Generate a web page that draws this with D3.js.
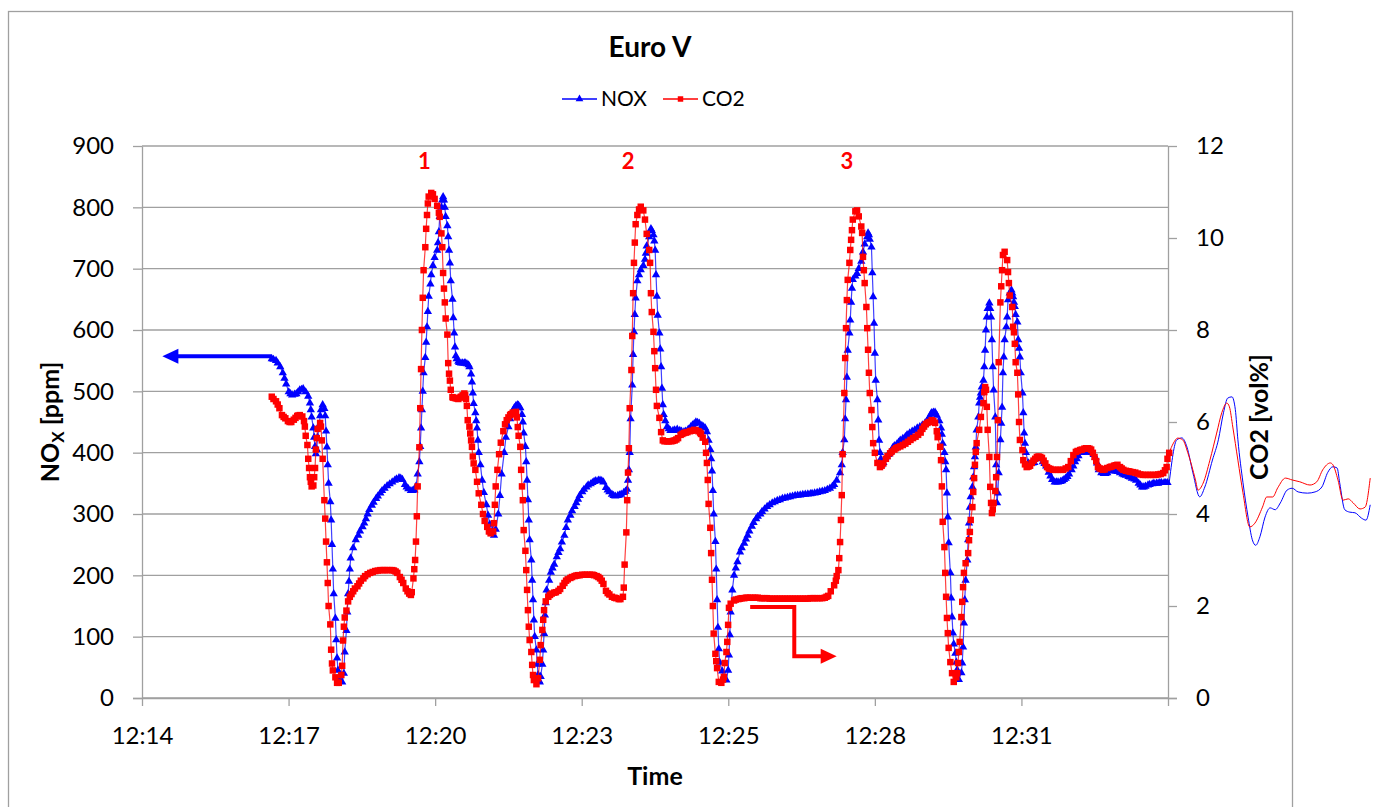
<!DOCTYPE html>
<html><head><meta charset="utf-8">
<script src="https://cdn.jsdelivr.net/npm/d3@7"></script>
<style>body{margin:0;background:#fff;} svg{display:block;font-family:Lato,"Open Sans",sans-serif;}</style>
</head><body><svg id="c" width="1379" height="807"></svg>
<script>
// ---------------- data ----------------
const chartTitle = "Euro V";
const xTitle = "Time";
const xTickLabels = ["12:14","12:17","12:20","12:23","12:25","12:28","12:31"];
const xTickStepSeconds = 172.8;          // seconds between axis labels (from 12:14:24)
const leftTicks = [0,100,200,300,400,500,600,700,800,900];
const rightTicks = [0,2,4,6,8,10,12];
const seriesNames = ["NOX","CO2"];
const peakLabels = [["1",333],["2",573],["3",831]];   // [label, seconds]
// NOX [ppm] : [seconds since axis start, value]
const noxData = [[153,553],[158,550],[163,540],[166,530],[170,512],[173,499],[177,494],[182,496],[186,502],[190,504],[193,499],[196,492],[198,481],[199,470],[200,458],[202,440],[203,425],[204,410],[205,398],[206,405],[207,425],[209,445],[210,460],[211,470],[213,478],[215,472],[216,460],[217,435],[218,409],[219,380],[220,350],[222,320],[223,290],[224,250],[225,210],[226,170],[228,130],[229,95],[230,65],[231,45],[233,30],[236,26],[238,40],[239,75],[241,110],[242,140],[243,170],[244,190],[245,210],[246,228],[249,245],[252,258],[257,272],[262,285],[266,300],[271,314],[276,325],[281,334],[286,342],[292,349],[298,355],[303,359],[307,356],[310,348],[314,341],[317,338],[321,339],[323,345],[325,365],[327,385],[328,410],[329,440],[330,470],[331,500],[332,530],[334,555],[335,580],[336,605],[337,630],[338,655],[340,675],[341,690],[343,705],[345,718],[348,730],[349,742],[350,760],[351,785],[353,800],[354,812],[355,817],[356,812],[357,800],[358,785],[360,770],[361,752],[362,730],[363,709],[364,680],[366,650],[367,620],[368,595],[369,572],[370,558],[373,549],[376,546],[380,546],[383,545],[386,540],[388,528],[389,515],[390,497],[391,480],[393,465],[394,452],[395,440],[396,420],[397,400],[399,380],[401,355],[403,335],[406,315],[408,298],[410,283],[413,272],[415,265],[417,275],[420,300],[422,330],[424,365],[427,400],[429,425],[432,442],[434,455],[437,468],[441,477],[443,478],[446,473],[448,462],[449,450],[450,432],[452,410],[453,385],[454,355],[455,323],[456,290],[457,258],[459,225],[460,192],[461,160],[462,127],[463,100],[465,78],[466,55],[467,38],[468,28],[469,26],[470,35],[472,55],[473,78],[474,105],[475,135],[476,155],[477,176],[480,192],[482,205],[486,218],[489,230],[493,243],[498,265],[502,290],[507,305],[512,318],[516,330],[521,340],[526,347],[531,351],[535,354],[540,355],[544,352],[547,343],[551,336],[554,332],[558,329],[561,330],[565,332],[568,335],[572,340],[573,355],[574,372],[575,400],[576,455],[578,510],[579,560],[580,597],[581,625],[582,652],[584,680],[586,690],[588,698],[591,705],[593,715],[594,725],[595,737],[598,752],[600,765],[601,762],[603,755],[604,745],[605,730],[606,690],[607,655],[608,624],[610,595],[611,569],[612,540],[613,505],[614,478],[615,462],[617,452],[619,442],[623,436],[626,436],[631,438],[634,436],[639,434],[644,438],[647,442],[651,447],[653,450],[657,448],[660,444],[664,440],[666,434],[668,420],[670,405],[671,390],[672,370],[673,338],[674,300],[676,255],[677,210],[678,160],[679,115],[680,80],[681,58],[684,44],[686,32],[689,29],[691,45],[692,70],[693,103],[694,140],[696,176],[698,200],[702,222],[705,238],[710,252],[714,265],[719,280],[724,292],[729,300],[734,308],[740,315],[746,320],[752,323],[758,326],[764,328],[770,330],[776,331],[782,332],[788,333],[793,334],[799,336],[805,338],[811,342],[816,348],[819,355],[823,367],[825,380],[826,400],[828,421],[829,455],[830,486],[831,523],[832,567],[834,595],[835,616],[836,645],[837,668],[838,682],[841,688],[843,692],[845,700],[848,712],[850,727],[852,740],[855,752],[856,758],[857,755],[858,748],[860,735],[861,693],[862,654],[863,611],[864,562],[865,518],[867,486],[868,453],[869,420],[870,400],[871,390],[872,380],[874,384],[876,389],[878,393],[882,400],[885,408],[890,414],[894,420],[900,426],[905,432],[911,437],[917,442],[923,448],[927,455],[930,463],[933,466],[935,466],[937,461],[940,452],[942,440],[943,430],[944,415],[946,400],[947,385],[948,372],[949,334],[950,295],[951,253],[953,204],[954,163],[955,132],[956,106],[957,88],[959,73],[960,58],[961,46],[962,30],[963,30],[966,41],[967,57],[968,83],[969,122],[970,160],[971,192],[973,225],[974,258],[975,285],[976,311],[977,328],[979,344],[980,360],[981,377],[982,393],[983,409],[984,437],[986,458],[987,481],[988,490],[989,497],[990,507],[992,518],[993,540],[994,567],[995,600],[996,621],[997,635],[999,644],[1000,635],[1001,621],[1002,584],[1003,540],[1004,502],[1006,458],[1007,380],[1008,318],[1009,334],[1010,367],[1012,421],[1013,448],[1014,474],[1015,530],[1016,556],[1017,584],[1019,605],[1020,621],[1021,649],[1023,660],[1025,665],[1026,660],[1027,654],[1028,645],[1029,638],[1030,625],[1032,613],[1033,584],[1034,570],[1035,556],[1036,530],[1038,497],[1039,465],[1040,432],[1041,415],[1042,400],[1045,383],[1048,382],[1052,384],[1055,391],[1059,390],[1062,385],[1066,378],[1069,368],[1073,356],[1076,352],[1080,352],[1085,354],[1089,358],[1093,365],[1096,372],[1100,385],[1104,395],[1107,400],[1111,401],[1115,401],[1120,400],[1124,392],[1126,383],[1128,372],[1131,367],[1134,366],[1138,367],[1141,370],[1145,372],[1148,370],[1153,367],[1158,364],[1163,361],[1167,358],[1172,355],[1175,350],[1179,344],[1183,345],[1186,347],[1191,349],[1196,350],[1200,351],[1205,351],[1209,351],
  // finer readings on the slow stretches
  [155,552],[160,546],[168,521],[175,496],[180,495],[184,499],[188,503],
  [255,265],[260,279],[264,292],[268,307],[273,319],[278,329],[283,338],[289,346],[295,352],[300,357],[305,358],[312,344],[319,338],
  [371,553],[374,547],[378,546],[381,546],[385,543],[436,463],[439,473],[444,477],
  [484,212],[491,237],[495,254],[500,278],[505,298],[510,312],[514,324],[519,336],[524,344],[529,349],[533,353],[538,355],[542,354],[549,339],[556,330],[563,331],[570,337],
  [621,439],[628,437],[636,435],[641,435],[649,445],[655,449],[662,442],
  [700,212],[707,245],[712,259],[716,272],[721,286],[726,296],[731,304],[737,312],[743,318],[749,322],[755,325],[761,327],[767,329],[773,330.5],[779,331.5],[785,332.5],[790,333.5],[796,335],[802,337],[808,340],[814,345],
  [880,397],[887,411],[892,417],[897,423],[902,429],[908,435],[914,440],[920,445],[925,451],[929,459],[931,465],
  [1050,383],[1057,391],[1064,382],[1071,362],[1078,352],[1083,353],[1087,356],[1091,361],[1098,378],[1102,390],[1109,401],[1113,401],[1117,401],[1122,397],[1136,366],[1143,371],[1150,369],[1156,365],[1160,363],[1165,360],[1170,357],[1177,347],[1181,344],[1188,348],[1193,350],[1198,350],[1202,351],[1207,351]];
// CO2 [vol%] : [seconds since axis start, value]
const co2Data = [[153,6.55],[158,6.45],[162,6.3],[165,6.15],[169,6.08],[172,6.02],[176,6.0],[179,6.05],[183,6.13],[186,6.15],[189,6.12],[191,6.02],[192,5.9],[193,5.7],[195,5.5],[196,5.2],[197,5.0],[198,4.8],[199,4.7],[200,4.6],[202,4.62],[203,4.8],[204,5.0],[205,5.4],[206,5.65],[207,5.85],[210,5.98],[211,5.9],[212,5.6],[213,5.2],[215,4.3],[216,3.9],[217,3.4],[218,2.95],[219,2.5],[220,2.0],[222,1.6],[223,1.05],[224,0.75],[225,0.6],[228,0.45],[230,0.33],[232,0.33],[235,0.5],[236,0.7],[237,1.25],[238,1.55],[239,1.75],[241,1.9],[243,2.1],[245,2.2],[249,2.32],[254,2.43],[258,2.55],[263,2.65],[269,2.72],[275,2.76],[281,2.78],[286,2.78],[292,2.78],[297,2.77],[301,2.72],[304,2.63],[308,2.5],[311,2.38],[315,2.27],[317,2.24],[318,2.3],[320,2.6],[321,2.8],[322,3.0],[323,3.4],[324,3.95],[325,4.6],[327,5.45],[328,6.3],[329,7.15],[330,8.0],[331,8.7],[332,9.3],[334,9.8],[335,10.2],[336,10.5],[337,10.75],[338,10.9],[341,10.98],[343,10.95],[345,10.85],[348,10.7],[350,10.55],[351,10.46],[353,10.1],[354,9.8],[355,9.24],[356,8.9],[357,8.6],[358,8.25],[360,7.9],[361,7.28],[362,7.05],[363,6.9],[364,6.7],[366,6.54],[369,6.52],[373,6.5],[376,6.55],[380,6.62],[382,6.5],[383,6.35],[384,6.04],[386,5.9],[387,5.75],[388,5.6],[389,5.46],[390,5.25],[391,5.1],[393,4.96],[395,4.7],[397,4.45],[400,4.2],[402,4.0],[404,3.85],[407,3.72],[409,3.62],[411,3.58],[414,3.62],[415,3.8],[416,4.2],[417,4.6],[419,4.96],[421,5.3],[423,5.55],[426,5.8],[428,5.95],[430,6.04],[434,6.15],[437,6.2],[441,6.22],[442,6.1],[443,5.89],[444,5.7],[446,5.46],[447,4.96],[448,4.6],[449,4.3],[450,3.65],[452,3.2],[453,2.78],[454,2.35],[455,1.91],[456,1.55],[457,1.26],[459,1.0],[460,0.72],[461,0.5],[462,0.39],[465,0.3],[467,0.43],[469,0.83],[470,1.15],[472,1.48],[473,1.7],[474,1.91],[476,2.1],[479,2.2],[483,2.27],[488,2.3],[493,2.37],[498,2.5],[502,2.58],[507,2.63],[512,2.66],[516,2.67],[522,2.68],[528,2.68],[533,2.67],[536,2.65],[540,2.6],[544,2.48],[547,2.33],[551,2.25],[554,2.2],[559,2.17],[564,2.15],[567,2.2],[568,2.4],[569,2.9],[571,3.6],[572,4.3],[573,4.9],[574,5.43],[575,6.3],[577,7.13],[578,7.87],[579,8.8],[580,9.46],[581,9.9],[582,10.3],[584,10.5],[586,10.62],[588,10.68],[591,10.6],[593,10.4],[595,10.09],[598,9.74],[599,9.46],[600,8.8],[601,8.39],[603,7.96],[604,7.54],[605,7.17],[606,6.7],[607,6.35],[610,6.09],[612,5.78],[614,5.6],[619,5.58],[624,5.58],[628,5.6],[632,5.65],[635,5.72],[639,5.76],[643,5.78],[646,5.8],[651,5.83],[656,5.8],[659,5.74],[661,5.66],[664,5.57],[665,5.33],[666,5.11],[667,4.74],[668,4.22],[670,3.7],[671,3.15],[672,2.57],[673,2.0],[674,1.4],[676,0.96],[677,0.8],[678,0.65],[680,0.35],[683,0.33],[685,0.4],[686,0.46],[687,0.76],[689,1.0],[690,1.22],[691,1.59],[692,1.96],[694,2.05],[698,2.12],[703,2.15],[707,2.17],[712,2.18],[717,2.18],[723,2.18],[729,2.17],[734,2.17],[740,2.16],[746,2.16],[752,2.16],[758,2.16],[764,2.16],[770,2.16],[776,2.16],[782,2.16],[788,2.17],[793,2.17],[799,2.17],[805,2.18],[809,2.22],[812,2.32],[816,2.45],[818,2.55],[819,2.65],[821,2.78],[822,3.04],[823,3.39],[824,3.87],[825,4.41],[826,5.3],[828,6.63],[829,7.39],[830,8.04],[831,8.65],[832,9.09],[834,9.46],[835,9.74],[836,9.96],[837,10.17],[838,10.4],[841,10.58],[843,10.6],[845,10.47],[848,10.25],[849,10.11],[850,9.59],[851,9.3],[852,9.02],[854,8.5],[855,8.04],[856,7.57],[857,7.07],[858,6.63],[860,6.26],[861,5.89],[862,5.54],[864,5.33],[867,5.11],[870,5.02],[874,5.1],[877,5.2],[882,5.32],[887,5.4],[891,5.45],[897,5.5],[903,5.57],[909,5.65],[915,5.72],[920,5.85],[924,5.95],[928,6.0],[931,6.04],[935,5.98],[937,5.8],[938,5.67],[941,5.46],[942,5.17],[943,4.6],[944,3.83],[946,3.28],[947,2.72],[948,2.2],[949,1.74],[950,1.41],[951,1.09],[953,0.78],[955,0.54],[957,0.35],[960,0.45],[961,0.54],[962,0.76],[963,1.0],[964,1.22],[966,1.76],[967,2.09],[968,2.41],[969,2.72],[971,2.93],[974,3.15],[975,3.43],[976,3.61],[977,3.87],[979,4.15],[980,4.48],[981,4.78],[982,5.07],[983,5.35],[984,5.54],[987,5.83],[989,6.11],[992,6.41],[993,6.65],[994,6.76],[995,6.7],[996,6.33],[997,5.83],[999,5.24],[1000,4.59],[1001,4.24],[1002,4.02],[1003,4.1],[1004,4.24],[1006,4.5],[1007,4.8],[1008,5.24],[1009,6.04],[1010,7.3],[1012,8.6],[1013,8.95],[1014,9.3],[1015,9.63],[1017,9.7],[1020,9.52],[1021,9.26],[1022,9.02],[1023,8.75],[1026,8.5],[1027,8.07],[1028,7.95],[1029,7.7],[1030,7.3],[1032,7.07],[1033,6.6],[1034,6.0],[1035,5.61],[1038,5.39],[1039,5.17],[1041,5.08],[1043,5.02],[1047,5.05],[1049,5.11],[1053,5.2],[1055,5.24],[1059,5.24],[1061,5.22],[1065,5.1],[1067,5.02],[1071,4.98],[1074,4.96],[1080,4.96],[1086,4.96],[1089,4.99],[1092,5.02],[1095,5.15],[1098,5.28],[1101,5.35],[1106,5.39],[1111,5.42],[1115,5.43],[1119,5.4],[1121,5.33],[1125,5.15],[1127,5.02],[1131,4.98],[1133,4.96],[1138,5.0],[1141,5.02],[1146,5.05],[1150,5.07],[1153,5.02],[1157,4.96],[1163,4.93],[1168,4.91],[1174,4.88],[1180,4.85],[1186,4.85],[1192,4.85],[1198,4.86],[1204,4.89],[1206,4.95],[1208,5.02],[1209,5.2],[1211,5.33],
  // finer readings on the slow stretches
  [155,6.5],[160,6.38],[167,6.11],[174,6.0],[181,6.09],[184,6.14],
  [247,2.26],[251,2.38],[256,2.49],[261,2.6],[266,2.69],[272,2.74],[278,2.77],[284,2.78],[289,2.78],[295,2.78],[299,2.75],[306,2.57],[313,2.32],
  [367,6.53],[371,6.51],[375,6.53],[378,6.58],[381,6.58],[432,6.1],[435,6.17],[439,6.21],
  [481,2.24],[486,2.29],[491,2.33],[496,2.44],[500,2.55],[505,2.61],[510,2.65],[514,2.67],[519,2.68],[525,2.68],[531,2.68],[538,2.63],[542,2.55],[549,2.28],[557,2.18],[562,2.15],
  [616,5.58],[621,5.58],[626,5.59],[630,5.62],[637,5.74],[641,5.77],[648,5.81],[653,5.82],[658,5.77],
  [700,2.14],[705,2.16],[710,2.17],[714,2.18],[720,2.18],[726,2.18],[731,2.17],[737,2.17],[743,2.16],[749,2.16],[755,2.16],[761,2.16],[767,2.16],[773,2.16],[779,2.16],[785,2.16],[791,2.17],[796,2.17],[802,2.17],[807,2.2],
  [872,5.05],[879,5.26],[884,5.36],[889,5.43],[894,5.47],[900,5.53],[906,5.61],[912,5.68],[918,5.77],[922,5.9],[926,5.98],[933,6.02],
  [1045,5.03],[1051,5.16],[1057,5.25],[1063,5.16],[1069,4.99],[1077,4.96],[1083,4.96],[1103,5.37],[1108,5.4],[1113,5.43],[1117,5.42],[1123,5.24],[1129,4.99],[1135,4.97],[1143,5.03],[1148,5.06],[1155,4.99],[1160,4.94],[1165,4.92],[1171,4.9],[1177,4.86],[1183,4.85],[1189,4.85],[1195,4.85],[1201,4.87]];
// thin continuation of both traces past the right edge of the plot
const noxTail = [[1211,351],[1220,421],[1226,424],[1232,409],[1239,367],[1247,328],[1253,344],[1262,388],[1269,421],[1275,465],[1280,489],[1285,491],[1289,470],[1292,421],[1298,351],[1304,295],[1309,258],[1313,249],[1318,263],[1324,295],[1330,310],[1336,307],[1342,318],[1350,339],[1356,342],[1363,336],[1374,334],[1383,336],[1391,344],[1398,368],[1404,377],[1409,375],[1412,351],[1418,307],[1424,303],[1430,302],[1438,293],[1443,290],[1448,315]];
const co2Tail = [[1211,5.33],[1216,5.54],[1221,5.65],[1227,5.61],[1233,5.33],[1242,4.74],[1245,4.52],[1251,4.67],[1259,5.17],[1267,5.76],[1273,6.2],[1279,6.41],[1282,6.33],[1286,5.89],[1292,5.17],[1298,4.46],[1306,3.72],[1312,3.8],[1321,4.15],[1326,4.37],[1333,4.37],[1339,4.57],[1348,4.78],[1356,4.74],[1365,4.7],[1377,4.63],[1385,4.7],[1392,4.96],[1401,5.11],[1404,5.07],[1410,4.74],[1416,4.3],[1422,4.33],[1428,4.24],[1436,4.11],[1442,4.15],[1448,4.78]];
// annotation arrows in data units
const noxArrow = [[153,557],[24,557]];                       // [seconds, ppm]
const co2Arrow = [[717,1.98],[769,1.98],[769,0.91],[819,0.91]]; // [seconds, vol%]

noxData.sort((a,b)=>a[0]-b[0]);
co2Data.sort((a,b)=>a[0]-b[0]);

// ---------------- layout ----------------
const plot = {left:142, right:1168, top:146, bottom:698};
const BLUE = "#0000ff", RED = "#ff0000", GRID = "#a0a0a0";
const svg = d3.select("#c");

const x = d3.scaleLinear().domain([0, xTickStepSeconds*7]).range([plot.left, plot.right]);
const yL = d3.scaleLinear().domain([0, 900]).range([plot.bottom, plot.top]);
const yR = d3.scaleLinear().domain([0, 12]).range([plot.bottom, plot.top]);

// outer frame
svg.append("rect").attr("x",8.5).attr("y",11.5).attr("width",1284).attr("height",830)
  .attr("fill","none").attr("stroke",GRID).attr("stroke-width",1.3);

// gridlines
svg.append("g").selectAll("line").data(leftTicks).join("line")
  .attr("x1",plot.left).attr("x2",plot.right)
  .attr("y1",d=>yL(d)).attr("y2",d=>yL(d))
  .attr("stroke",GRID).attr("stroke-width",1.3);

function styleAxis(g){
  g.attr("font-family","Lato, 'Open Sans', sans-serif").attr("font-size",24);
  g.selectAll("path.domain").attr("stroke",GRID).attr("stroke-width",1.3);
  g.selectAll(".tick line").attr("stroke",GRID).attr("stroke-width",1.3);
  g.selectAll(".tick text").attr("fill","#000");
}
const axL = svg.append("g").attr("transform",`translate(${plot.left},0)`)
  .call(d3.axisLeft(yL).tickValues(leftTicks).tickSize(9).tickSizeOuter(0).tickPadding(19).tickFormat(d3.format("d")));
styleAxis(axL);
const axR = svg.append("g").attr("transform",`translate(${plot.right},0)`)
  .call(d3.axisRight(yR).tickValues(rightTicks).tickSize(9).tickSizeOuter(0).tickPadding(19).tickFormat(d3.format("d")));
styleAxis(axR);
const axB = svg.append("g").attr("transform",`translate(0,${plot.bottom})`)
  .call(d3.axisBottom(x).tickValues(d3.range(8).map(i=>i*xTickStepSeconds)).tickSize(8).tickSizeOuter(0).tickPadding(21)
    .tickFormat((d,i)=> xTickLabels[i] || ""));
styleAxis(axB);
axB.select("path.domain").attr("d",`M${plot.left-9},0.5H${plot.right+9}`);

// thin tails (outside plot)
const lineL = d3.line().x(d=>x(d[0])).y(d=>yL(d[1]));
const lineR = d3.line().x(d=>x(d[0])).y(d=>yR(d[1]));
svg.append("path").attr("d",lineL.curve(d3.curveMonotoneX)(noxTail)).attr("fill","none").attr("stroke",BLUE).attr("stroke-width",1);
svg.append("path").attr("d",lineR.curve(d3.curveMonotoneX)(co2Tail)).attr("fill","none").attr("stroke",RED).attr("stroke-width",1);
lineL.curve(d3.curveLinear); lineR.curve(d3.curveLinear);

// NOX series
const gN = svg.append("g");
gN.append("path").attr("d",lineL(noxData)).attr("fill","none").attr("stroke",BLUE).attr("stroke-opacity",0.75).attr("stroke-width",1.2);
const triSym = d3.symbol().type(d3.symbolTriangle).size(30);
gN.selectAll("path.m").data(noxData).join("path").attr("class","m")
  .attr("d",triSym).attr("transform",d=>`translate(${x(d[0])},${yL(d[1])})`).attr("fill",BLUE);

// CO2 series
const gC = svg.append("g");
gC.append("path").attr("d",lineR(co2Data)).attr("fill","none").attr("stroke",RED).attr("stroke-opacity",0.75).attr("stroke-width",1.2);
const sqSym = d3.symbol().type(d3.symbolSquare).size(42);
gC.selectAll("path.m").data(co2Data).join("path").attr("class","m")
  .attr("d",sqSym).attr("transform",d=>`translate(${x(d[0])},${yR(d[1])})`).attr("fill",RED);

// arrows
function arrow(pts, color){
  const n = pts.length, tip = pts[n-1], prev = pts[n-2];
  const dx = tip[0]-prev[0], dy = tip[1]-prev[1], len = Math.hypot(dx,dy);
  const ux = dx/len, uy = dy/len, head = 16, half = 7.5;
  const shaft = pts.slice(0,n-1).concat([[tip[0]-ux*(head-2), tip[1]-uy*(head-2)]]);
  svg.append("path").attr("d",d3.line()(shaft)).attr("fill","none").attr("stroke",color).attr("stroke-width",4).attr("stroke-linejoin","miter");
  const bx = tip[0]-ux*head, by = tip[1]-uy*head;
  svg.append("path").attr("d",`M${tip[0]},${tip[1]}L${bx-uy*half},${by+ux*half}L${bx+uy*half},${by-ux*half}Z`).attr("fill",color);
}
arrow(noxArrow.map(d=>[x(d[0]),yL(d[1])]), BLUE);
arrow(co2Arrow.map(d=>[x(d[0]),yR(d[1])]), RED);

// peak labels
svg.append("g").selectAll("text").data(peakLabels).join("text")
  .attr("x",d=>x(d[1])).attr("y",yL(863)).attr("text-anchor","middle")
  .attr("font-size",22).attr("font-weight","bold").attr("fill",RED).text(d=>d[0]);

// title
svg.append("text").attr("x",650).attr("y",57).attr("text-anchor","middle")
  .attr("font-size",28).attr("font-weight","bold").text(chartTitle);

// legend
const lg = svg.append("g");
[[562,BLUE,d3.symbol().type(d3.symbolTriangle).size(26),seriesNames[0]],[663,RED,d3.symbol().type(d3.symbolSquare).size(30),seriesNames[1]]].forEach(([lx,c,sym,name])=>{
  lg.append("line").attr("x1",lx).attr("x2",lx+35).attr("y1",99).attr("y2",99).attr("stroke",c).attr("stroke-width",1.3);
  lg.append("path").attr("d",sym).attr("transform",`translate(${lx+17.5},99)`).attr("fill",c);
  lg.append("text").attr("x",lx+39).attr("y",106).attr("font-size",21).text(name);
});

// axis titles
svg.append("text").attr("x",(plot.left+plot.right)/2).attr("y",785).attr("text-anchor","middle")
  .attr("font-size",25).attr("font-weight","bold").text(xTitle);
const yt = svg.append("text").attr("transform",`translate(59,${(plot.top+plot.bottom)/2}) rotate(-90)`)
  .attr("text-anchor","middle").attr("font-size",25).attr("font-weight","bold");
yt.append("tspan").text("NO");
yt.append("tspan").attr("font-size",17).attr("dy",5).text("X");
yt.append("tspan").attr("dy",-5).text(" [ppm]");
svg.append("text").attr("transform",`translate(1268,417) rotate(-90)`)
  .attr("text-anchor","middle").attr("font-size",25).attr("font-weight","bold").text("CO2 [vol%]");
</script></body></html>
